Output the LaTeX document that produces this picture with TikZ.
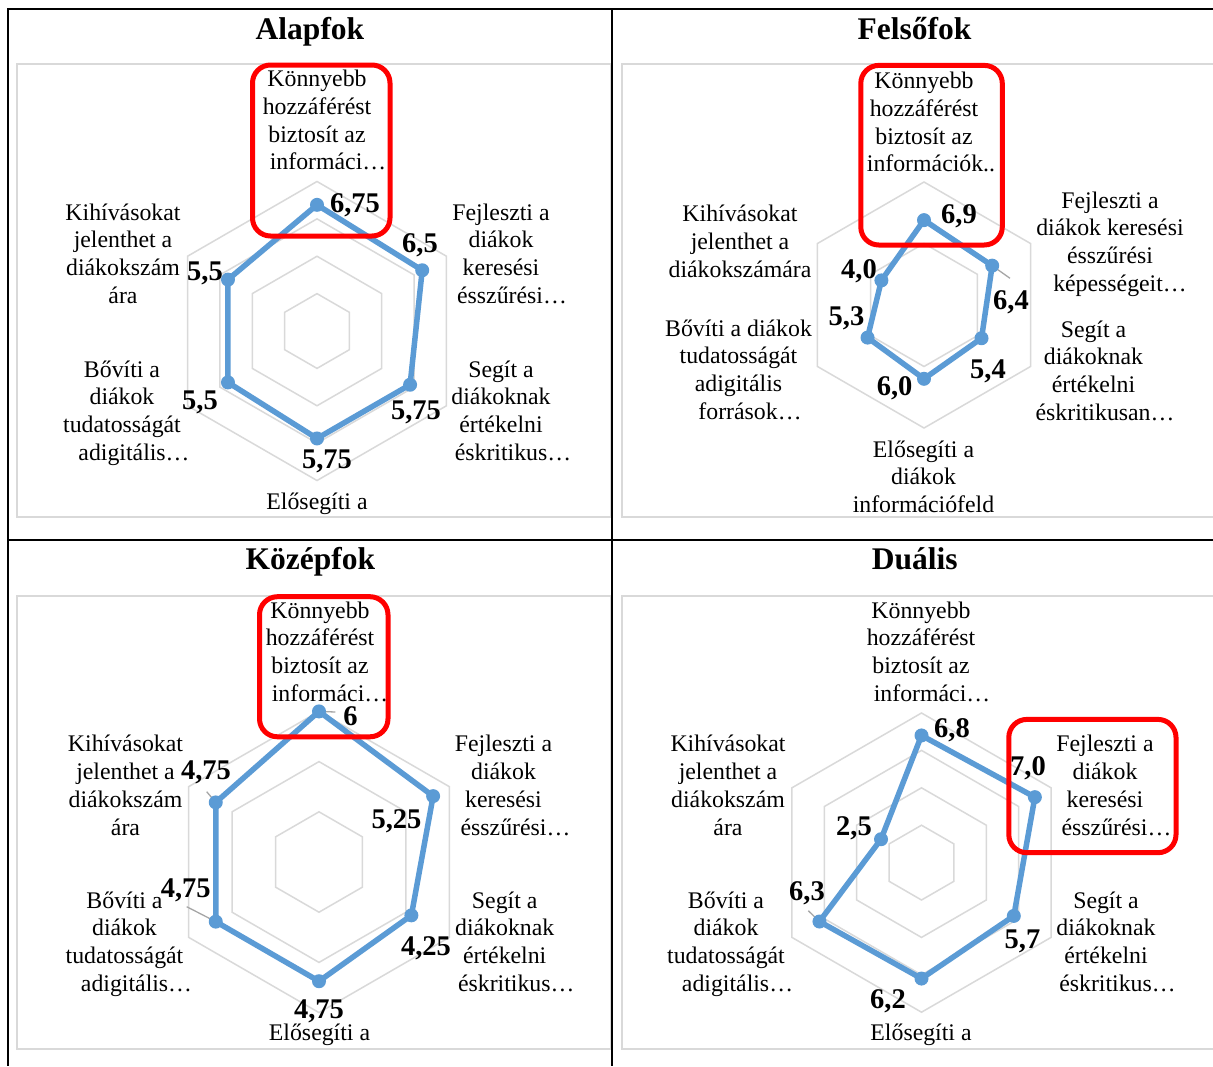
\documentclass[tikz,border=0pt]{standalone}
\usepackage{fontspec}
\setmainfont{Liberation Serif}
\definecolor{serblue}{HTML}{5B9BD5}
\definecolor{gridgray}{HTML}{D9D9D9}
\definecolor{leadgray}{HTML}{A6A6A6}
% leading space that pushes a centred, truncated line to the right
\newcommand\lead[1]{\hspace*{#1pt}}
\begin{document}
\begin{tikzpicture}[x=1pt,y=-1pt,
  rule/.style={line width=2pt, black},
  plotbox/.style={draw=gridgray, line width=2pt},
  grid/.style={draw=gridgray, line width=1.5pt},
  series/.style={draw=serblue, line width=5.5pt, line join=round},
  dot/.style={circle, fill=serblue, inner sep=0pt, minimum size=14pt},
  leader/.style={draw=leadgray, line width=1.3pt},
  highlight/.style={draw=red, line width=5pt, rounded corners=18pt},
  title/.style={font=\fontsize{31.5}{36}\selectfont\bfseries, anchor=base, inner sep=0pt},
  cat/.style={font=\fontsize{23.8}{27.7}\selectfont, align=center, anchor=north, inner sep=0pt},
  val/.style={font=\fontsize{28.5}{32}\selectfont\bfseries, anchor=base, inner sep=0pt},
]
\useasboundingbox (0,0) rectangle (1213,1066);
\clip (0,0) rectangle (1213,1066);
\fill[white] (0,0) rectangle (1213,1066);

% plot areas
\draw[plotbox] (17,63.5) rectangle (611,516.7);
\draw[plotbox] (621.5,63.5) rectangle (1220,516.7);
\draw[plotbox] (17,596) rectangle (611,1049);
\draw[plotbox] (621.5,596) rectangle (1220,1049);

% ---------- Alapfok ----------
\begin{scope}[shift={(317,331)}]
  \foreach \g in {2,4,6,8}
    \draw[grid] (-90:\g*18.69) -- (-30:\g*18.69) -- (30:\g*18.69) -- (90:\g*18.69) -- (150:\g*18.69) -- (210:\g*18.69) -- cycle;
  \foreach \v [count=\i] in {6.75,6.5,5.75,5.75,5.5,5.5}
    \coordinate (A\i) at ({-150+60*\i}:\v*18.69);
  \draw[series] (A1) -- (A2) -- (A3) -- (A4) -- (A5) -- (A6) -- cycle;
  \foreach \i in {1,...,6} \node[dot] (Am\i) at (A\i) {};
\end{scope}
\node[cat] (Ac1) at (317,67.3) {\strut Könnyebb\\hozzáférést\\biztosít az\\\lead{22}informáci…};
\node[cat] (Ac2) at (501,200.6) {\strut Fejleszti a\\diákok\\keresési\\\lead{22}ésszűrési…};
\node[cat] (Ac3) at (501,357.6) {\strut Segít a\\diákoknak\\értékelni\\\lead{24}éskritikus…};
\node[cat] (Ac4) at (317,489.6) {\strut Elősegíti a};
\node[cat] (Ac5) at (122,357.6) {\strut Bővíti a\\diákok\\tudatosságát\\\lead{24}adigitális…};
\node[cat] (Ac6) at (123,200.6) {\strut Kihívásokat\\jelenthet a\\diákokszám\\ára};
\node[val] (Av1) at (355,212.5) {6,75};
\node[val] (Av2) at (420,252.5) {6,5};
\node[val] (Av3) at (416,419.5) {5,75};
\node[val] (Av4) at (327,468.5) {5,75};
\node[val] (Av5) at (200,409.5) {5,5};
\node[val] (Av6) at (205,280.5) {5,5};

% ---------- Felsőfok ----------
\coordinate (Fl2) at (1010,278.3);
\begin{scope}[shift={(924,305)}]
  \foreach \g in {5,10}
    \draw[grid] (-90:\g*12.3) -- (-30:\g*12.3) -- (30:\g*12.3) -- (90:\g*12.3) -- (150:\g*12.3) -- (210:\g*12.3) -- cycle;
  \foreach \v [count=\i] in {6.9,6.4,5.4,6.0,5.3,4.0}
    \coordinate (F\i) at ({-150+60*\i}:\v*12.3);
  \draw[leader] (F2) -- (Fl2);
  \draw[series] (F1) -- (F2) -- (F3) -- (F4) -- (F5) -- (F6) -- cycle;
  \foreach \i in {1,...,6} \node[dot] (Fm\i) at (F\i) {};
\end{scope}
\node[cat] (Fc1) at (924,69.1) {\strut Könnyebb\\hozzáférést\\biztosít az\\\lead{14}információk..};
\node[cat] (Fc2) at (1110,188.6) {\strut Fejleszti a\\diákok keresési\\ésszűrési\\\lead{20}képességeit…};
\node[cat] (Fc3) at (1093.5,317.6) {\strut Segít a\\diákoknak\\értékelni\\\lead{23}éskritikusan…};
\node[cat] (Fc4) at (923.5,437.6) {\strut Elősegíti a\\diákok\\információfeld};
\node[cat] (Fc5) at (738.5,316.6) {\strut Bővíti a diákok\\tudatosságát\\adigitális\\\lead{23}források…};
\node[cat] (Fc6) at (740,202.1) {\strut Kihívásokat\\jelenthet a\\diákokszámára};
\node[val] (Fv1) at (959,223) {6,9};
\node[val] (Fv2) at (1011,309) {6,4};
\node[val] (Fv3) at (988,378) {5,4};
\node[val] (Fv4) at (894.6,395.5) {6,0};
\node[val] (Fv5) at (846.5,325.5) {5,3};
\node[val] (Fv6) at (859,278) {4,0};

% ---------- Középfok ----------
\coordinate (Kl1) at (335.4,712);
\coordinate (Kl5) at (186.7,906.7);
\coordinate (Kl6) at (206.7,791.7);
\begin{scope}[shift={(319,862)}]
  \foreach \g in {2,4,6}
    \draw[grid] (-90:\g*25.1) -- (-30:\g*25.1) -- (30:\g*25.1) -- (90:\g*25.1) -- (150:\g*25.1) -- (210:\g*25.1) -- cycle;
  \foreach \v [count=\i] in {6,5.25,4.25,4.75,4.75,4.75}
    \coordinate (K\i) at ({-150+60*\i}:\v*25.1);
  \draw[leader] (K1) -- (Kl1);
  \draw[leader] (K5) -- (Kl5);
  \draw[leader] (K6) -- (Kl6);
  \draw[series] (K1) -- (K2) -- (K3) -- (K4) -- (K5) -- (K6) -- cycle;
  \foreach \i in {1,...,6} \node[dot] (Km\i) at (K\i) {};
\end{scope}
\node[cat] (Kc1) at (320,598.6) {\strut Könnyebb\\hozzáférést\\biztosít az\\\lead{20}informáci…};
\node[cat] (Kc2) at (503.5,732.3) {\strut Fejleszti a\\diákok\\keresési\\\lead{24}ésszűrési…};
\node[cat] (Kc3) at (504.7,888.6) {\strut Segít a\\diákoknak\\értékelni\\\lead{23}éskritikus…};
\node[cat] (Kc4) at (319.5,1021.2) {\strut Elősegíti a};
\node[cat] (Kc5) at (124.5,888.6) {\strut Bővíti a\\diákok\\tudatosságát\\\lead{24}adigitális…};
\node[cat] (Kc6) at (125.5,732.3) {\strut Kihívásokat\\jelenthet a\\diákokszám\\ára};
\node[val] (Kv1) at (350.6,725) {6};
\node[val] (Kv2) at (396.5,828.5) {5,25};
\node[val] (Kv3) at (426,955) {4,25};
\node[val] (Kv4) at (319,1018) {4,75};
\node[val] (Kv5) at (185.8,897) {4,75};
\node[val] (Kv6) at (206,779) {4,75};

% ---------- Duális ----------
\coordinate (Dl5) at (808.3,910.7);
\begin{scope}[shift={(921.5,862.6)}]
  \foreach \g in {2,4,6,8}
    \draw[grid] (-90:\g*18.7) -- (-30:\g*18.7) -- (30:\g*18.7) -- (90:\g*18.7) -- (150:\g*18.7) -- (210:\g*18.7) -- cycle;
  \foreach \v [count=\i] in {6.8,7.0,5.7,6.2,6.3,2.5}
    \coordinate (D\i) at ({-150+60*\i}:\v*18.7);
  \draw[leader] (D5) -- (Dl5);
  \draw[series] (D1) -- (D2) -- (D3) -- (D4) -- (D5) -- (D6) -- cycle;
  \foreach \i in {1,...,6} \node[dot] (Dm\i) at (D\i) {};
\end{scope}
\node[cat] (Dc1) at (921,598.6) {\strut Könnyebb\\hozzáférést\\biztosít az\\\lead{22}informáci…};
\node[cat] (Dc2) at (1105,732.3) {\strut Fejleszti a\\diákok\\keresési\\\lead{23}ésszűrési…};
\node[cat] (Dc3) at (1106,888.6) {\strut Segít a\\diákoknak\\értékelni\\\lead{23}éskritikus…};
\node[cat] (Dc4) at (921,1021.2) {\strut Elősegíti a};
\node[cat] (Dc5) at (726,888.6) {\strut Bővíti a\\diákok\\tudatosságát\\\lead{23}adigitális…};
\node[cat] (Dc6) at (728,732.3) {\strut Kihívásokat\\jelenthet a\\diákokszám\\ára};
\node[val] (Dv1) at (952,737) {6,8};
\node[val] (Dv2) at (1028,775.5) {7,0};
\node[val] (Dv3) at (1022.5,948) {5,7};
\node[val] (Dv4) at (888,1008) {6,2};
\node[val] (Dv5) at (807,900) {6,3};
\node[val] (Dv6) at (854,835) {2,5};

% highlighted categories
\draw[highlight] (252.5,65) rectangle (390,236);
\draw[highlight] (860.8,65.4) rectangle (1002.3,245);
\draw[highlight] (259.5,596.7) rectangle (388,736.8);
\draw[highlight] (1008.8,719.4) rectangle (1176,852.7);

% table rules and panel titles
\draw[rule] (1213,9.3) -- (8.3,9.3) -- (8.3,1066);
\draw[rule] (612,9.3) -- (612,1066);
\draw[rule] (8.3,540) -- (1213,540);
\node[title] (t1) at (310,39) {Alapfok};
\node[title] (t2) at (914.4,39) {Felsőfok};
\node[title] (t3) at (310.3,569.3) {Középfok};
\node[title] (t4) at (914.8,569) {Duális};
\end{tikzpicture}
\end{document}
